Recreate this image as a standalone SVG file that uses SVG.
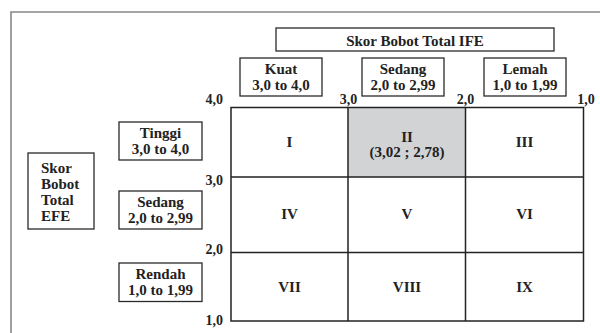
<svg xmlns="http://www.w3.org/2000/svg" width="600" height="333" viewBox="0 0 600 333">
<style>
text{font-family:"Liberation Serif","Times New Roman",serif;font-weight:bold;fill:#222;}
.c{text-anchor:middle;}
.box{fill:#fff;stroke:#2a2a2a;stroke-width:1.3;}
.t{font-size:15px;}
.n{font-size:14px;}
.g{fill:none;stroke:#222;stroke-width:1.5;}
</style>
<rect x="0" y="0" width="600" height="333" fill="#fff"/>
<path d="M11,333 V12 H600" fill="none" stroke="#888" stroke-width="1.6"/>
<g id="ife-title"><rect class="box" x="276" y="28" width="278" height="23"/><text class="c t" x="415" y="45.5">Skor Bobot Total IFE</text></g>
<g id="kuat"><rect class="box" x="240" y="58" width="82" height="38"/><text class="c t" x="281" y="73.5">Kuat</text><text class="c t" x="281" y="90">3,0 to 4,0</text></g>
<g id="sedang-ife"><rect class="box" x="362" y="58" width="82" height="38"/><text class="c t" x="403" y="73.5">Sedang</text><text class="c t" x="403" y="90">2,0 to 2,99</text></g>
<g id="lemah"><rect class="box" x="484" y="58" width="82" height="38"/><text class="c t" x="525" y="73.5">Lemah</text><text class="c t" x="525" y="90">1,0 to 1,99</text></g>
<g id="efe-title"><rect class="box" x="28" y="153" width="66" height="76"/><text class="t" x="41" y="172.5">Skor</text><text class="t" x="41" y="188.6">Bobot</text><text class="t" x="41" y="204.7">Total</text><text class="t" x="41" y="220.8">EFE</text></g>
<g id="tinggi"><rect class="box" x="119" y="122" width="83" height="38"/><text class="c t" x="160.5" y="138">Tinggi</text><text class="c t" x="160.5" y="153.5">3,0 to 4,0</text></g>
<g id="sedang-efe"><rect class="box" x="119" y="191" width="83" height="38"/><text class="c t" x="160.5" y="207">Sedang</text><text class="c t" x="160.5" y="223">2,0 to 2,99</text></g>
<g id="rendah"><rect class="box" x="119" y="263" width="83" height="38.5"/><text class="c t" x="160.5" y="278.5">Rendah</text><text class="c t" x="160.5" y="294.5">1,0 to 1,99</text></g>
<g id="axis-labels" class="n">
<text class="n" x="223" y="103.5" text-anchor="end">4,0</text>
<text class="n c" x="348.5" y="103.5">3,0</text>
<text class="n c" x="465.5" y="103.5">2,0</text>
<text class="n c" x="586" y="103.5">1,0</text>
<text class="n" x="223" y="184.5" text-anchor="end">3,0</text>
<text class="n" x="223" y="253.5" text-anchor="end">2,0</text>
<text class="n" x="223" y="325" text-anchor="end">1,0</text>
</g>
<g id="cell-II"><rect x="348" y="107.5" width="117.5" height="69.5" fill="#d2d3d5"/></g>
<g id="grid">
<rect class="g" x="231" y="107.5" width="352.5" height="213.5"/>
<path class="g" d="M348,107.5 V321 M465.5,107.5 V321 M231,177 H583.5 M231,252.5 H583.5"/>
</g>
<g id="cells">
<text class="c t" x="289.5" y="146.5">I</text>
<text class="c t" x="407" y="142.3">II</text>
<text class="c t" x="407" y="157">(3,02 ; 2,78)</text>
<text class="c t" x="524.5" y="146.7">III</text>
<text class="c t" x="289.5" y="219">IV</text>
<text class="c t" x="407" y="219">V</text>
<text class="c t" x="524.5" y="219">VI</text>
<text class="c t" x="289.5" y="292">VII</text>
<text class="c t" x="407" y="292">VIII</text>
<text class="c t" x="524.5" y="292">IX</text>
</g>
</svg>
